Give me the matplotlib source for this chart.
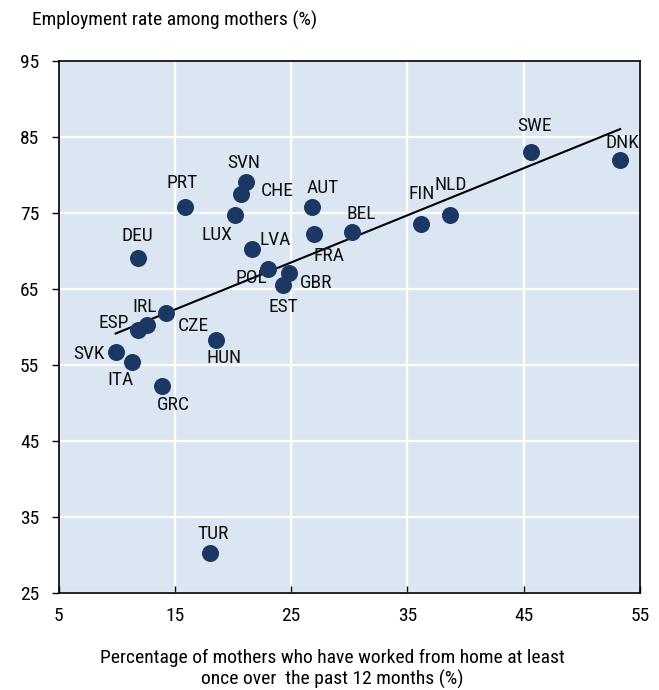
import numpy as np
import matplotlib
matplotlib.use("Agg")
import matplotlib.pyplot as plt

plt.rcParams['font.family'] = ["Roboto Condensed", "Liberation Sans", "DejaVu Sans"]

countries = ["SWE", "DNK", "FIN", "NLD", "BEL", "AUT", "FRA", "GBR", "EST", "POL",
             "LVA", "LUX", "CHE", "SVN", "PRT", "DEU", "IRL", "ESP", "CZE", "HUN",
             "SVK", "ITA", "GRC", "TUR"]
wfh_pct = [45.6, 53.3, 36.2, 38.7, 30.2, 26.8, 27.0, 24.8, 24.3, 23.0,
           21.6, 20.2, 20.7, 21.1, 15.9, 11.8, 14.2, 11.8, 12.6, 18.5,
           9.9, 11.3, 13.9, 18.0]
emp_rate = [83.0, 81.9, 73.5, 74.7, 72.4, 75.7, 72.2, 67.1, 65.5, 67.6,
            70.2, 74.7, 77.5, 79.1, 75.7, 69.0, 61.8, 59.6, 60.2, 58.2,
            56.7, 55.4, 52.2, 30.2]
trend_x = [9.9, 53.3]
trend_y = [59.1, 86.0]
xticks = [5, 15, 25, 35, 45, 55]
yticks = [25, 35, 45, 55, 65, 75, 85, 95]

# label offsets in pixels (dx, dy)
offsets = {
    "SWE": (4, 26), "DNK": (2, 17), "FIN": (0, 30), "NLD": (0, 30),
    "BEL": (10, 18), "AUT": (11, 19), "FRA": (15, -22), "GBR": (27, -10),
    "EST": (0, -22), "POL": (-17, -9), "LVA": (24, 9), "LUX": (-18, -20),
    "CHE": (36, 3), "SVN": (-2, 19), "PRT": (-3, 24), "DEU": (0, 22),
    "IRL": (-21, 6), "ESP": (-24, 7), "CZE": (46, -1), "HUN": (8, -18),
    "SVK": (-27, -2), "ITA": (-11, -18), "GRC": (11, -19), "TUR": (3, 19),
}

FS = 14

fig = plt.figure(figsize=(6.59, 6.90), dpi=100)
ax = fig.add_axes([0.089, 0.141, 0.882, 0.771])
ax.set_facecolor("#DCE6F2")
ax.set_xlim(5, 55)
ax.set_ylim(25, 95)
ax.set_xticks(xticks)
ax.set_yticks(yticks)
ax.grid(True, color="white", linewidth=1.6)
ax.set_axisbelow(True)
for s in ax.spines.values():
    s.set_color("black")
    s.set_linewidth(1.2)
ax.tick_params(axis="x", direction="in", length=5, width=1, labelsize=FS, pad=10)
ax.tick_params(axis="y", direction="out", length=5, width=1, labelsize=FS, pad=9)

ax.plot(trend_x, trend_y, color="black", linewidth=1.5, zorder=2)
ax.scatter(wfh_pct, emp_rate, s=150, color="#1B3763", zorder=3, linewidths=0)

for c, x, y in zip(countries, wfh_pct, emp_rate):
    dx, dy = offsets[c]
    ax.annotate(c, (x, y), xytext=(dx, dy), textcoords="offset pixels",
                ha="center", va="center", fontsize=FS, color="#111111",
                zorder=4, annotation_clip=False)

fig.text(0.049, 0.97, "Employment rate among mothers (%)", fontsize=FS,
         ha="left", va="center")
fig.text(0.504, 0.031, "Percentage of mothers who have worked from home at least\nonce over  the past 12 months (%)",
         fontsize=FS, ha="center", va="center", linespacing=1.2)

fig.savefig("out.png", dpi=100)
